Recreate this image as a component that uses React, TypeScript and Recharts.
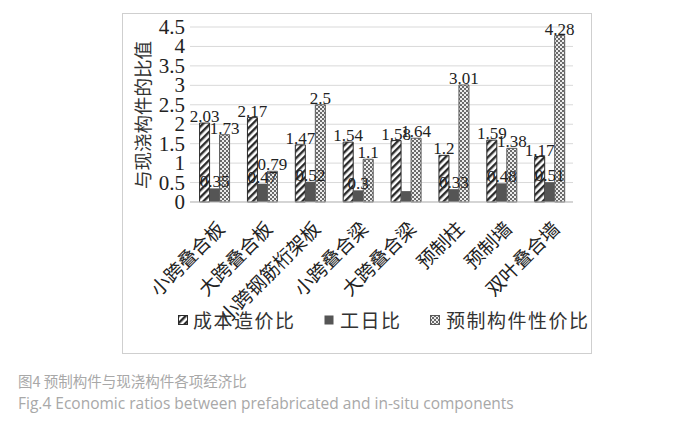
import React from "react";
import {
  BarChart,
  Bar,
  XAxis,
  YAxis,
  CartesianGrid,
  LabelList,
  Label,
} from "recharts";

// 各构件类别
const components = [
  "小跨叠合板",
  "大跨叠合板",
  "小跨钢筋桁架板",
  "小跨叠合梁",
  "大跨叠合梁",
  "预制柱",
  "预制墙",
  "双叶叠合墙",
];

const costRatio = [2.03, 2.17, 1.47, 1.54, 1.58, 1.2, 1.59, 1.17];
const workdayRatio = [0.35, 0.47, 0.52, 0.3, 0.28, 0.33, 0.48, 0.51];
const valueRatio = [1.73, 0.79, 2.5, 1.1, 1.64, 3.01, 1.38, 4.28];
// the workday label of 大跨叠合梁 is not printed in the original
const workdayLabelShown = [true, true, true, true, false, true, true, true];

const yTicks = [0, 0.5, 1, 1.5, 2, 2.5, 3, 3.5, 4, 4.5];

const seriesNames = ["成本造价比", "工日比", "预制构件性价比"];

const data = components.map((name, i) => ({
  name,
  cost: costRatio[i],
  workday: workdayRatio[i],
  workdayLabel: workdayLabelShown[i] ? workdayRatio[i] : null,
  value: valueRatio[i],
}));

const SERIF = '"Liberation Serif", "Times New Roman", "Noto Sans CJK SC", serif';
const CJK = '"Noto Sans CJK SC", "Liberation Serif", serif';

function CategoryTick({ x, y, payload }: any) {
  const tx = x + 12;
  const ty = y + 28;
  return (
    <text
      x={tx}
      y={ty}
      transform={`rotate(-45, ${tx}, ${ty})`}
      textAnchor="end"
      fontSize={19}
      fontFamily={CJK}
      fill="#222"
    >
      {payload.value}
    </text>
  );
}

function ValueTick({ x, y, payload }: any) {
  return (
    <text
      x={x}
      y={y}
      dy={7}
      textAnchor="end"
      fontSize={21}
      fontFamily={SERIF}
      fill="#222"
    >
      {payload.value}
    </text>
  );
}

function Swatch({ fill, stroke }: { fill: string; stroke?: string }) {
  return (
    <svg width={10} height={10} style={{ display: "block" }}>
      <rect x={0.5} y={0.5} width={9} height={9} fill={fill} stroke={stroke || "none"} />
    </svg>
  );
}

export default function App() {
  const labelStyle = { fontSize: 17, fontFamily: SERIF, fill: "#222" };
  return (
    <div
      style={{
        position: "absolute",
        left: 0,
        top: 0,
        width: 675,
        height: 427,
        background: "#fff",
        overflow: "hidden",
      }}
    >
      <div
        style={{
          position: "absolute",
          left: 122,
          top: 13,
          width: 470,
          height: 341,
          border: "1px solid #cfcfcf",
          boxSizing: "border-box",
        }}
      />
      <div style={{ position: "absolute", left: 0, top: 0 }}>
        <BarChart
          width={675}
          height={427}
          data={data}
          margin={{ top: 27, right: 102, bottom: 0, left: 0 }}
          barCategoryGap="20%"
          barGap={0}
        >
          <defs>
            <pattern
              id="hatch"
              width="5"
              height="5"
              patternUnits="userSpaceOnUse"
              patternTransform="rotate(45)"
            >
              <rect width="5" height="5" fill="#fff" />
              <line x1="1.2" y1="0" x2="1.2" y2="5" stroke="#2b2b2b" strokeWidth="2.4" />
            </pattern>
            <pattern id="checker" width="4" height="4" patternUnits="userSpaceOnUse">
              <rect width="4" height="4" fill="#ececec" />
              <rect x="0" y="0" width="2" height="2" fill="#6a6a6a" />
              <rect x="2" y="2" width="2" height="2" fill="#6a6a6a" />
            </pattern>
          </defs>
          <CartesianGrid vertical={false} stroke="#d9d9d9" />
          <XAxis
            dataKey="name"
            interval={0}
            height={225}
            tickLine={false}
            tickSize={0}
            tickMargin={0}
            axisLine={{ stroke: "#bdbdbd" }}
            tick={<CategoryTick />}
          />
          <YAxis
            width={190}
            domain={[0, 4.5]}
            ticks={yTicks}
            interval={0}
            axisLine={false}
            tickLine={false}
            tickSize={0}
            tickMargin={5}
            tick={<ValueTick />}
          >
            <Label
              content={() => (
                <text
                  x={150}
                  y={115}
                  transform="rotate(-90, 150, 115)"
                  textAnchor="middle"
                  fontSize={18.5}
                  fontFamily={CJK}
                  fill="#333"
                >
                  与现浇构件的比值
                </text>
              )}
            />
          </YAxis>
          <Bar
            dataKey="cost"
            name={seriesNames[0]}
            fill="url(#hatch)"
            stroke="#2b2b2b"
            strokeWidth={1}
            isAnimationActive={false}
          >
            <LabelList dataKey="cost" position="top" offset={1} style={labelStyle} />
          </Bar>
          <Bar
            dataKey="workday"
            name={seriesNames[1]}
            fill="#555555"
            isAnimationActive={false}
          >
            <LabelList dataKey="workdayLabel" position="top" offset={1} style={labelStyle} />
          </Bar>
          <Bar
            dataKey="value"
            name={seriesNames[2]}
            fill="url(#checker)"
            stroke="#5a5a5a"
            strokeWidth={1}
            isAnimationActive={false}
          >
            <LabelList dataKey="value" position="top" offset={1} style={labelStyle} />
          </Bar>
        </BarChart>
      </div>

      {/* legend */}
      <div
        style={{
          position: "absolute",
          left: 178,
          top: 307,
          display: "flex",
          alignItems: "center",
          fontFamily: CJK,
          fontSize: 19,
          color: "#333",
          letterSpacing: 1.5,
          lineHeight: "26px",
        }}
      >
        <Swatch fill="url(#hatch)" stroke="#2b2b2b" />
        <span style={{ marginLeft: 5, width: 131 }}>{seriesNames[0]}</span>
        <Swatch fill="#555555" />
        <span style={{ marginLeft: 6, width: 90 }}>{seriesNames[1]}</span>
        <Swatch fill="url(#checker)" stroke="#5a5a5a" />
        <span style={{ marginLeft: 6 }}>{seriesNames[2]}</span>
      </div>

      {/* caption */}
      <div
        style={{
          position: "absolute",
          left: 18,
          top: 372,
          fontFamily: '"Noto Sans CJK SC", "Open Sans", sans-serif',
          fontSize: 14.5,
          color: "#a8a8a8",
          lineHeight: "18px",
        }}
      >
        图4 预制构件与现浇构件各项经济比
      </div>
      <div
        style={{
          position: "absolute",
          left: 18,
          top: 393,
          fontFamily: '"Open Sans", "Noto Sans", sans-serif',
          fontSize: 15.5,
          color: "#a8a8a8",
          lineHeight: "20px",
        }}
      >
        Fig.4 Economic ratios between prefabricated and in-situ components
      </div>
    </div>
  );
}
